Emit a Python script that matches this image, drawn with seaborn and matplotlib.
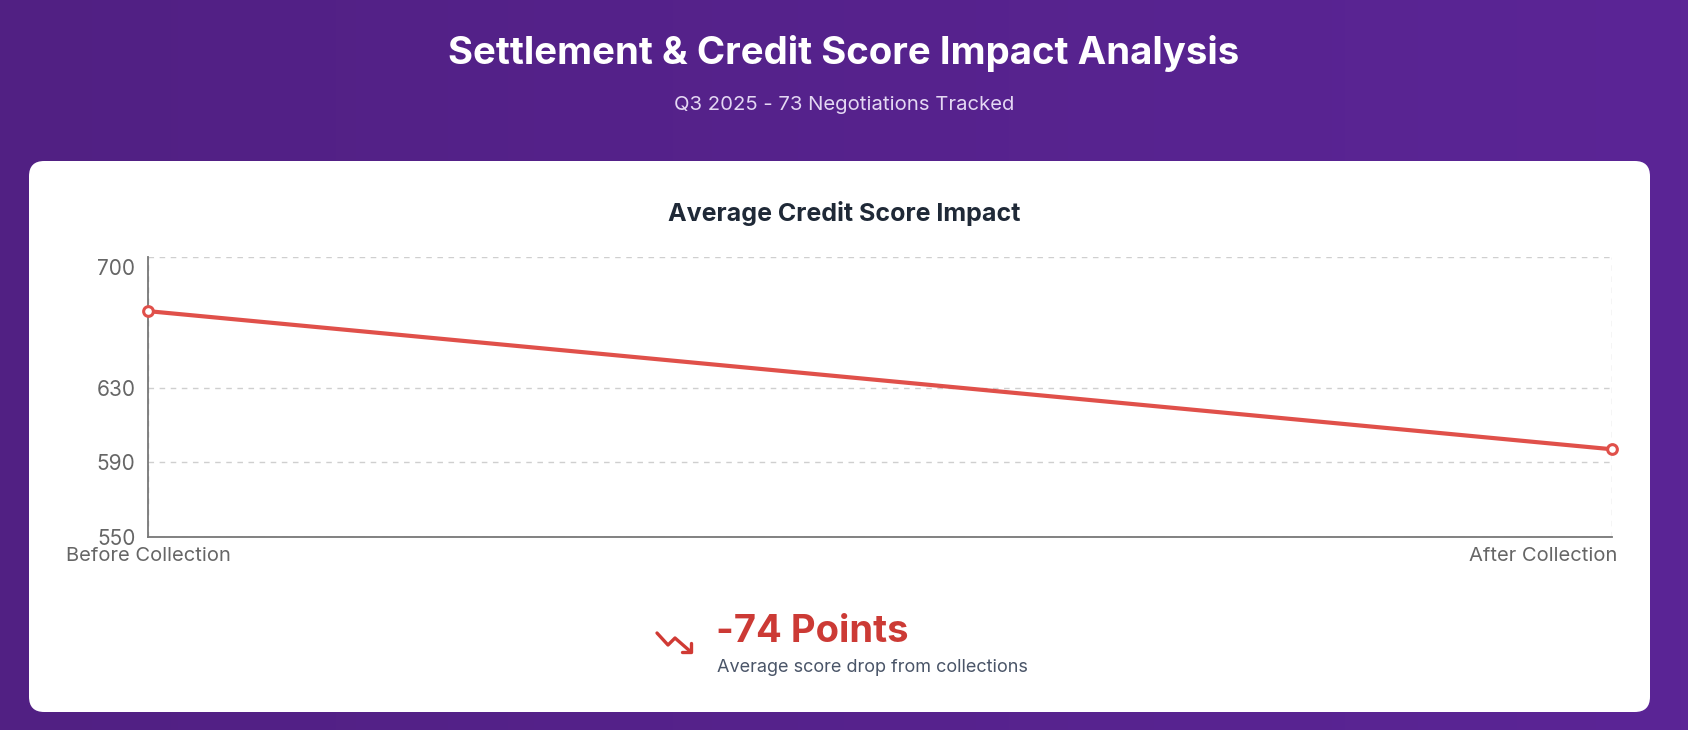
import numpy as np
import pandas as pd
import matplotlib.pyplot as plt
import seaborn as sns
from matplotlib.patches import FancyBboxPatch
from matplotlib.lines import Line2D
from matplotlib.colors import LinearSegmentedColormap
from matplotlib.transforms import ScaledTranslation

# chart data
stages = ['Before Collection', 'After Collection']
avg_scores = [671, 597]
y_ticks = [550, 590, 630, 700]

title = 'Settlement & Credit Score Impact Analysis'
subtitle = 'Q3 2025 - 73 Negotiations Tracked'
chart_title = 'Average Credit Score Impact'
drop_label = '-74 Points'
drop_note = 'Average score drop from collections'

sns.set_theme(style='white')
plt.rcParams['font.family'] = ['Inter', 'DejaVu Sans']

W, H = 1688, 730
fig = plt.figure(figsize=(W / 100, H / 100), dpi=100)

def fx(px):
    return px / W

def fy(py):
    return 1 - py / H

# purple gradient background
bg = fig.add_axes([0, 0, 1, 1], zorder=-10)
grad = np.linspace(0, 1, 256).reshape(1, -1)
cmap = LinearSegmentedColormap.from_list('bg', ['#512083', '#5b2596'])
bg.imshow(grad, aspect='auto', cmap=cmap, extent=[0, 1, 0, 1])
bg.set_axis_off()

# white card
card = FancyBboxPatch((fx(29), fy(712)), fx(1650) - fx(29), fy(161) - fy(712),
                      boxstyle='round,pad=0,rounding_size=0.009',
                      transform=fig.transFigure, facecolor='white', edgecolor='none',
                      mutation_aspect=W / H, zorder=-5)
fig.patches.append(card)

# header text
fig.text(0.5, fy(53), title, ha='center', va='center', color='white',
         fontsize=27.6, fontweight='bold')
fig.text(0.5, fy(105), subtitle, ha='center', va='center', color='#e4d8f3',
         fontsize=14.6)
fig.text(0.5, fy(213), chart_title, ha='center', va='center', color='#1f2937',
         fontsize=18, fontweight='bold')

# line chart
ax = fig.add_axes([fx(148), fy(537), fx(1612) - fx(148), fy(257) - fy(537)])
df = pd.DataFrame({'stage': stages, 'score': avg_scores})
sns.lineplot(data=df, x='stage', y='score', ax=ax, color='#e0504a', linewidth=3,
             marker='o', markersize=7, markerfacecolor='white',
             markeredgecolor='#e0504a', markeredgewidth=2.2, sort=False,
             clip_on=False, zorder=5)
ax.set_xlim(0, 1)
ax.set_ylim(550, 700)
ax.set_yticks(y_ticks)
ax.set_xticks([0, 1])
ax.set_xticklabels(stages)
ax.set_xlabel('')
ax.set_ylabel('')
ax.grid(True, color='#cfcfcf', linestyle=(0, (4, 4)), linewidth=1)
for s in ['top', 'right']:
    ax.spines[s].set_visible(False)
for s in ['left', 'bottom']:
    ax.spines[s].set_color('#777777')
    ax.spines[s].set_linewidth(1.3)
ax.tick_params(axis='both', direction='out', length=6, width=1.2, color='#777777',
               labelcolor='#666666')
ax.tick_params(axis='y', labelsize=15, pad=3)
ax.tick_params(axis='x', labelsize=14.5, pad=1)
xl = ax.get_xticklabels()
xl[1].set_ha('right')
xl[1].set_transform(xl[1].get_transform() + ScaledTranslation(5 / 100, 0, fig.dpi_scale_trans))
# top y label sits a little lower, inside the card
yl = ax.get_yticklabels()
yl[-1].set_transform(yl[-1].get_transform() + ScaledTranslation(0, -10 / 100, fig.dpi_scale_trans))

# trending-down icon
icon_x = [657, 668, 675, 691]
icon_y = [633, 645, 638, 652]
fig.add_artist(Line2D([fx(v) for v in icon_x], [fy(v) for v in icon_y],
                      color='#d03a34', linewidth=2.4, solid_capstyle='round',
                      solid_joinstyle='round'))
fig.add_artist(Line2D([fx(682), fx(691), fx(691)], [fy(652), fy(652), fy(643)],
                      color='#d03a34', linewidth=2.4, solid_capstyle='round',
                      solid_joinstyle='round'))

fig.text(fx(716), fy(632), drop_label, ha='left', va='center', color='#cc3a35',
         fontsize=27.5, fontweight='bold')
fig.text(fx(717), fy(668), drop_note, ha='left', va='center', color='#4a5568',
         fontsize=13)

fig.savefig('out.png', dpi=100)
